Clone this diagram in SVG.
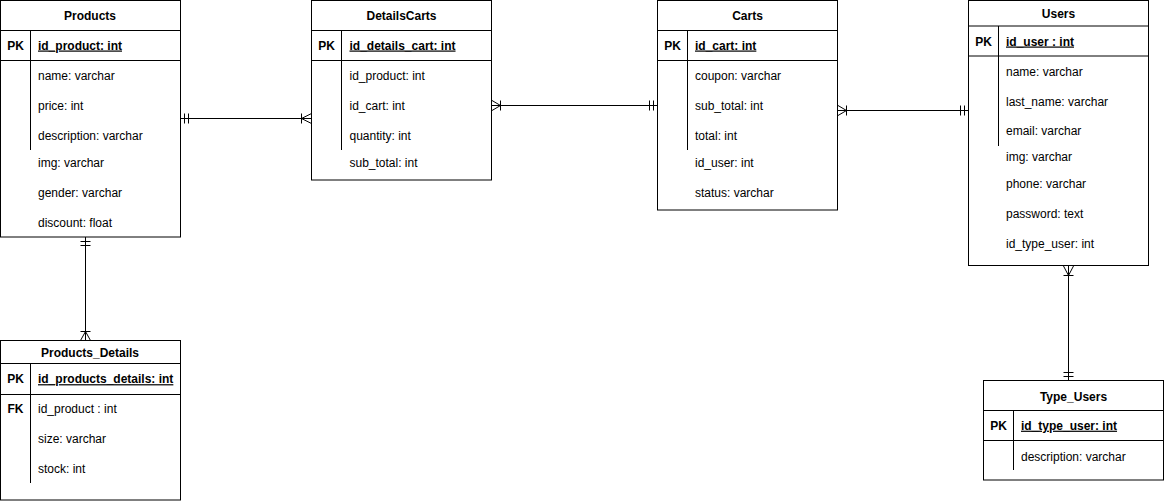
<svg xmlns="http://www.w3.org/2000/svg" width="1164" height="501" viewBox="0 0 1164 501">
<style>
.box{fill:#fff;stroke:#000;stroke-width:1}
.ln{stroke:#000;stroke-width:1;fill:none}
text{font-family:"Liberation Sans",Arial,Helvetica,sans-serif;font-size:12px;fill:#000}
.t{text-anchor:middle;font-weight:bold}
.k{text-anchor:middle;font-weight:bold}
.pk{font-weight:bold;text-decoration:underline}
</style>
<rect width="1164" height="501" fill="#fff"/>
<g id="connectors" class="ln">
  <!-- Products -> DetailsCarts -->
  <path d="M181 118.5H311.5M184.5 113.5V123.5M188.5 113.5V123.5M301.5 113.5V123.5M301.5 118.5L311.5 113.5M301.5 118.5L311.5 123.5"/>
  <!-- DetailsCarts -> Carts -->
  <path d="M492 105.5H657M492 100.5L500.5 105.5L492 110.5M500.5 100.5V110.5M649.5 100.5V110.5M653.5 100.5V110.5"/>
  <!-- Carts -> Users -->
  <path d="M838 110.5H968M838 105.5L846.5 110.5L838 115.5M846.5 105.5V115.5M960.5 105.5V115.5M964.5 105.5V115.5"/>
  <!-- Products -> Products_Details -->
  <path d="M85.5 237V340.5M80.5 241.5H90.5M80.5 245.5H90.5M80.5 331.5H90.5M85.5 331.5L80.5 340.5M85.5 331.5L90.5 340.5"/>
  <!-- Users -> Type_Users -->
  <path d="M1068.5 266V380.5M1063.5 266L1068.5 275.5L1073.5 266M1063.5 275.5H1073.5M1063.5 372.5H1073.5M1063.5 376.5H1073.5"/>
</g>
<g id="Products">
  <rect class="box" x="0.5" y="0.5" width="180" height="236.5"/>
  <path class="ln" d="M0.5 30.5H180.5M0.5 60.5H180.5M30.5 30.5V150"/>
  <text class="t" x="90" y="19.5">Products</text>
  <text class="k" x="15.5" y="49.5">PK</text>
  <text class="pk" x="38" y="49.5">id_product: int</text>
  <text x="38" y="80">name: varchar</text>
  <text x="38" y="110">price: int</text>
  <text x="38" y="140">description: varchar</text>
  <text x="38" y="166.5">img: varchar</text>
  <text x="38" y="196.5">gender: varchar</text>
  <text x="38" y="226.5">discount: float</text>
</g>
<g id="DetailsCarts">
  <rect class="box" x="311.5" y="0.5" width="180" height="179.5"/>
  <path class="ln" d="M311.5 30.5H491.5M311.5 60.5H491.5M341.5 30.5V150"/>
  <text class="t" x="401.5" y="19.5">DetailsCarts</text>
  <text class="k" x="326.5" y="49.5">PK</text>
  <text class="pk" x="349.5" y="49.5">id_details_cart: int</text>
  <text x="349.5" y="80">id_product: int</text>
  <text x="349.5" y="110">id_cart: int</text>
  <text x="349.5" y="140">quantity: int</text>
  <text x="349.5" y="166.5">sub_total: int</text>
</g>
<g id="Carts">
  <rect class="box" x="657.5" y="0.5" width="180" height="209.5"/>
  <path class="ln" d="M657.5 30.5H837.5M657.5 60.5H837.5M687.5 30.5V150"/>
  <text class="t" x="747.5" y="19.5">Carts</text>
  <text class="k" x="672.5" y="49.5">PK</text>
  <text class="pk" x="695" y="49.5">id_cart: int</text>
  <text x="695" y="80">coupon: varchar</text>
  <text x="695" y="110">sub_total: int</text>
  <text x="695" y="140">total: int</text>
  <text x="695" y="166.5">id_user: int</text>
  <text x="695" y="196.5">status: varchar</text>
</g>
<g id="Users">
  <rect class="box" x="968.5" y="0.5" width="180" height="265"/>
  <path class="ln" d="M968.5 26H1148.5M968.5 56H1148.5M998.5 26V146"/>
  <text class="t" x="1058.5" y="18">Users</text>
  <text class="k" x="983.5" y="45.5">PK</text>
  <text class="pk" x="1006" y="45.5">id_user : int</text>
  <text x="1006" y="75.5">name: varchar</text>
  <text x="1006" y="105.5">last_name: varchar</text>
  <text x="1006" y="135">email: varchar</text>
  <text x="1006" y="160.5">img: varchar</text>
  <text x="1006" y="187.5">phone: varchar</text>
  <text x="1006" y="217.5">password: text</text>
  <text x="1006" y="247.5">id_type_user: int</text>
</g>
<g id="Products_Details">
  <rect class="box" x="0.5" y="340.5" width="180" height="159.5"/>
  <path class="ln" d="M0.5 363.5H180.5M0.5 394.5H180.5M30.5 363.5V483"/>
  <text class="t" x="90" y="356.7">Products_Details</text>
  <text class="k" x="15.5" y="383.2">PK</text>
  <text class="pk" x="38" y="383.2">id_products_details: int</text>
  <text class="k" x="15.5" y="412.5">FK</text>
  <text x="38" y="412.5">id_product : int</text>
  <text x="38" y="443">size: varchar</text>
  <text x="38" y="472.5">stock: int</text>
</g>
<g id="Type_Users">
  <rect class="box" x="983.5" y="380.5" width="180" height="99.5"/>
  <path class="ln" d="M983.5 410.5H1163.5M983.5 440.5H1163.5M1013.5 410.5V470"/>
  <text class="t" x="1073.5" y="400.7">Type_Users</text>
  <text class="k" x="998.5" y="429.7">PK</text>
  <text class="pk" x="1021" y="429.7">id_type_user: int</text>
  <text x="1021" y="460.7">description: varchar</text>
</g>
</svg>
